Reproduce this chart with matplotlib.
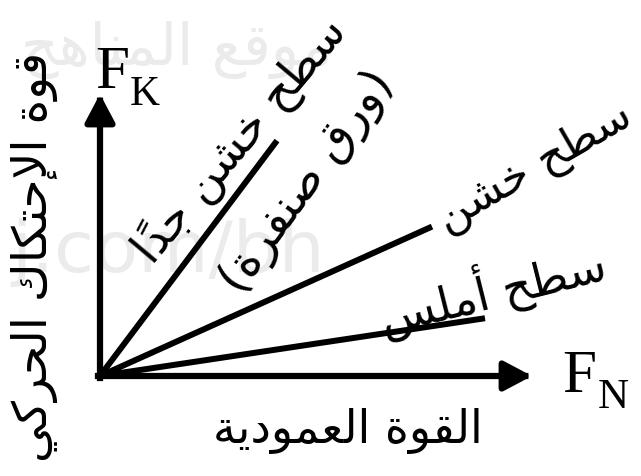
import matplotlib
matplotlib.use("Agg")
import matplotlib.pyplot as plt

# Arabic presentation forms (isolated code, dual-joining?)
FORMS = {
    'ا': (0xFE8D, False), 'أ': (0xFE83, False), 'إ': (0xFE87, False),
    'ة': (0xFE93, False), 'ت': (0xFE95, True), 'ج': (0xFE9D, True),
    'ح': (0xFEA1, True), 'خ': (0xFEA5, True), 'د': (0xFEA9, False),
    'ر': (0xFEAD, False), 'س': (0xFEB1, True), 'ش': (0xFEB5, True),
    'ص': (0xFEB9, True), 'ط': (0xFEC1, True), 'ع': (0xFEC9, True),
    'ف': (0xFED1, True), 'ق': (0xFED5, True), 'ك': (0xFED9, True),
    'ل': (0xFEDD, True), 'م': (0xFEE1, True), 'ن': (0xFEE5, True),
    'ه': (0xFEE9, True), 'و': (0xFEED, False), 'ي': (0xFEF1, True),
}
LAM_ALEF = {'ا': 0xFEFB, 'أ': 0xFEF7, 'إ': 0xFEF9}
MARKS = '\u064B'


def ar(text):
    # shape arabic letters and put them in visual (left-to-right) order
    clusters = []
    for ch in text:
        if ch in MARKS and clusters:
            clusters[-1][1] += ch
        else:
            clusters.append([ch, ''])
    merged = []
    i = 0
    while i < len(clusters):
        c = clusters[i]
        if c[0] == 'ل' and i + 1 < len(clusters) and clusters[i + 1][0] in LAM_ALEF:
            merged.append(['LA' + clusters[i + 1][0], clusters[i + 1][1]])
            i += 2
        else:
            merged.append(c)
            i += 1

    def is_ar(t):
        return t in FORMS or t.startswith('LA')

    def joins_next(t):
        return t in FORMS and FORMS[t][1]

    out = []
    for i, (tok, marks) in enumerate(merged):
        prev = merged[i - 1][0] if i > 0 else None
        nxt = merged[i + 1][0] if i + 1 < len(merged) else None
        link_prev = prev is not None and joins_next(prev) and is_ar(tok)
        if tok.startswith('LA'):
            g = chr(LAM_ALEF[tok[2]] + (1 if link_prev else 0))
        elif tok in FORMS:
            base, dual = FORMS[tok]
            link_next = dual and nxt is not None and is_ar(nxt)
            g = chr(base + [[0, 2], [1, 3]][link_prev][link_next])
        else:
            g = tok
        out.append(g + marks)
    vis = ''.join(reversed(out))
    return vis.translate(str.maketrans('()', ')('))


# data
surfaces = ['سطح أملس', 'سطح خشن', 'سطح خشن جداً']
mu_k = [0.15, 0.45, 1.33]
fn_max = [385, 332, 177]
label_angle = [14, 30, 50]
x_label = 'القوة العمودية'
y_label = 'قوة الإحتكاك الحركي'
note = '(ورق صنفرة)'

AR = ['DejaVu Sans']
SERIF = ['Liberation Serif']
WM = '#ebebeb'

fig = plt.figure(figsize=(6.41, 4.77), dpi=100)
ax = fig.add_axes([0, 0, 1, 1])
ax.set_xlim(-100, 541)
ax.set_ylim(-100, 377)
ax.axis('off')

# faint watermark
ax.text(232, 327, ar('موقع المناهج'), fontsize=42, color=WM,
        family=AR, ha='right', va='center', zorder=0)
ax.text(225, 105, 'j.com/bh', fontsize=52, color=WM,
        family=AR, ha='right', va='baseline', zorder=0)

# axes arrows
arrow = dict(arrowstyle='-|>,head_length=0.85,head_width=0.45',
             mutation_scale=20, lw=4.5, color='black',
             shrinkA=0, shrinkB=0, capstyle='projecting')
ax.annotate('', xy=(0, 282), xytext=(0, -2), arrowprops=arrow)
ax.annotate('', xy=(432, 0), xytext=(-2, 0), arrowprops=arrow)

# friction lines
for mu, xm in zip(mu_k, fn_max):
    ax.plot([0, xm], [0, mu * xm], color='black', lw=4.3,
            solid_capstyle='butt', zorder=3)

# labels
ax.text(392, 87, ar(surfaces[0]), fontsize=33, family=AR,
        rotation=label_angle[0], ha='center', va='center', rotation_mode='anchor')
ax.text(435, 210, ar(surfaces[1]), fontsize=32, family=AR,
        rotation=label_angle[1], ha='center', va='center', rotation_mode='anchor')
ax.text(140, 236, ar(surfaces[2]), fontsize=33, family=AR,
        rotation=label_angle[2], ha='center', va='center', rotation_mode='anchor')
ax.text(208, 195, ar(note), fontsize=34, family=AR,
        rotation=54, ha='center', va='center', rotation_mode='anchor')

ax.text(248, -54, ar(x_label), fontsize=33, family=AR, ha='center', va='center')
ax.text(-66, 120, ar(y_label), fontsize=34, family=AR, rotation=90,
        ha='center', va='center')

ax.text(-5, 289, 'F', fontsize=44, family=SERIF, va='baseline')
ax.text(30, 272, 'K', fontsize=30, family=SERIF, va='baseline')
ax.text(462, -15, 'F', fontsize=44, family=SERIF, va='baseline')
ax.text(498, -31, 'N', fontsize=31, family=SERIF, va='baseline')

fig.savefig('out.png', dpi=100, facecolor='white')
